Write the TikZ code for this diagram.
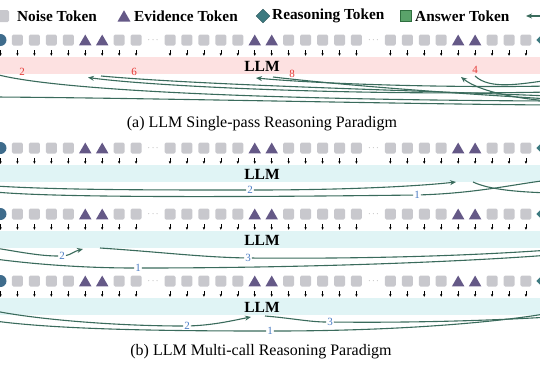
\documentclass[tikz,border=0pt]{standalone}
\usepackage{fontspec}
\setmainfont{Liberation Serif}
\usetikzlibrary{shapes.geometric,arrows.meta}
\definecolor{tokgray}{HTML}{C8C8CD}
\definecolor{evid}{HTML}{655987}
\definecolor{reas}{HTML}{3D7A80}
\definecolor{qblue}{HTML}{3F6C8C}
\definecolor{ansg}{HTML}{5AA36A}
\definecolor{ansgd}{HTML}{2F6F3F}
\definecolor{flowc}{HTML}{3A6B5C}
\definecolor{pinkband}{HTML}{FDE1E1}
\definecolor{cyanband}{HTML}{E0F4F5}
\definecolor{numred}{HTML}{E53935}
\definecolor{numblue}{HTML}{4A7CC4}
\tikzset{
  toks/.style={rectangle, fill=tokgray, minimum width=11pt, minimum height=11pt, rounded corners=1.5pt, inner sep=0pt},
  tokt/.style={regular polygon, regular polygon sides=3, fill=evid, minimum size=14.5pt, inner sep=0pt, yshift=-1.8pt},
  tokc/.style={circle, fill=qblue, minimum size=12pt, inner sep=0pt},
  tokr/.style={diamond, fill=reas, minimum size=13pt, inner sep=0pt},
  tokd/.style={inner sep=0pt, text=gray, font=\small, execute at begin node={$\cdots$}},
  tinyarr/.style={line width=0.6pt, -{Latex[length=2.6pt,width=2.6pt]}},
  legtext/.style={font=\fontsize{15.3}{15.3}\selectfont\bfseries, inner sep=0pt, anchor=west},
  llmtext/.style={font=\fontsize{15.5}{15.5}\selectfont\bfseries, inner sep=0pt},
  captext/.style={font=\fontsize{16}{16}\selectfont, inner sep=0pt},
  band/.style={rectangle, minimum width=560pt, minimum height=17pt, inner sep=0pt},
  flow/.style={draw=flowc, line width=1.1pt},
  flowarr/.style={draw=flowc, line width=1.1pt, -{Stealth[length=6pt,width=5pt]}},
  numr/.style={text=numred, font=\fontsize{11}{11}\selectfont, inner sep=0pt},
  numb/.style={text=numblue, font=\fontsize{11}{11}\selectfont, fill=white, inner sep=1pt},
}
\newcommand\tokrow[2]{%
  \foreach \k [count=\i from 0] in {c,s,s,s,s,t,t,s,s,d,s,s,s,s,s,t,t,s,s,s,s,s,d,s,s,s,s,t,t,s,s,s,r}{
    \pgfmathsetmacro\xx{0.5+16.95*\i}
    \node[tok\k] (#1\i) at (\xx,#2) {};
    \if d\k\else
      \draw[tinyarr] (\xx,#2+10) -- (\xx,#2+16);
    \fi
  }
}
\begin{document}
\begin{tikzpicture}[x=1pt,y=-1pt]
\useasboundingbox (0,0) rectangle (540,372);

% legend
\node[toks, minimum width=12pt, minimum height=12pt] (lgs) at (3,16) {};
\node[legtext] (lgst) at (17,16) {Noise Token};
\node[tokt, minimum size=15pt] (lgt) at (124,16) {};
\node[legtext] (lgtt) at (134,16) {Evidence Token};
\node[tokr, draw=reas!70!black, minimum size=14pt] (lgr) at (263,16) {};
\node[legtext] (lgrt) at (272,16) {Reasoning Token};
\node[rectangle, fill=ansg, draw=ansgd, line width=0.8pt, minimum size=11pt, inner sep=0pt] (lga) at (406,16) {};
\node[legtext] (lgat) at (415,16) {Answer Token};
\coordinate (lgfs) at (552,16);
\coordinate (lgfe) at (526,16);
\draw[flowarr] (lgfs) -- (lgfe);

% ---------------- (a) single pass ----------------
\node[band, fill=pinkband] (bandA) at (270,65.5) {};
\tokrow{a}{40}
\node[llmtext] (llmA) at (262,66.5) {LLM};
\node[numr] (na2) at (22,72) {2};
\node[numr] (na6) at (134,72) {6};
\node[numr] (na8) at (292,73.5) {8};
\node[numr] (na4) at (475,70) {4};

\coordinate (aL1) at (-5,74);
\coordinate (aL2) at (-5,97);
\coordinate (aR1) at (550,101);
\coordinate (aR2) at (550,105);
\coordinate (aR3) at (550,92);
\coordinate (aR4) at (550,96);
\coordinate (aR5) at (550,86);
\coordinate (aR6) at (550,99);
\coordinate (aR7) at (550,101);
\coordinate (aR8) at (550,80);
\coordinate (aI6) at (88,77.5);
\coordinate (aO6) at (101,76);
\coordinate (aI8) at (256,78);
\coordinate (aO8) at (273,77);
\coordinate (aI4) at (461,77);
\coordinate (aO4) at (475,76);

\draw[flow] (aL1) .. controls (60,92) and (300,100) .. (aR1);
\draw[flow] (aL2) .. controls (150,98) and (400,104) .. (aR2);
\draw[flowarr] (aR3) .. controls (350,96) and (150,86) .. (aI6);
\draw[flow] (aO6) .. controls (200,85) and (400,90) .. (aR4);
\draw[flowarr] (aR5) .. controls (450,88) and (320,84) .. (aI8);
\draw[flow] (aO8) .. controls (350,86) and (450,93) .. (aR6);
\draw[flowarr] (aR7) .. controls (520,99) and (480,92) .. (aI4);
\draw[flow] (aO4) .. controls (490,90) and (520,84) .. (aR8);

\node[captext] (capA) at (262,124) {(a) LLM Single-pass Reasoning Paradigm};

% ---------------- (b) multi call ----------------
% row 1
\node[band, fill=cyanband] (bandB1) at (270,173.5) {};
\tokrow{b}{148}
\node[llmtext] (llmB1) at (262,174) {LLM};
\coordinate (b1s2) at (-5,186);
\node[numb] (b1n2) at (250,190) {2};
\coordinate (b1e2) at (456,182);
\draw[flowarr] (b1s2) .. controls (60,190) and (150,190) .. (b1n2) .. controls (350,190) and (420,186) .. (b1e2);
\coordinate (b1s1) at (-5,192);
\node[numb] (b1n1) at (417,195) {1};
\coordinate (b1e1) at (550,180);
\draw[flow] (b1s1) .. controls (60,198) and (250,197) .. (b1n1) .. controls (480,193) and (520,183) .. (b1e1);
\coordinate (b1s3) at (473,182);
\coordinate (b1e3) at (550,193);
\draw[flow] (b1s3) .. controls (490,190) and (520,192) .. (b1e3);

% row 2
\node[band, fill=cyanband] (bandB2) at (270,239.5) {};
\tokrow{c}{214}
\node[llmtext] (llmB2) at (262,240) {LLM};
\coordinate (b2s2) at (-5,248);
\node[numb] (b2n2) at (62,256) {2};
\coordinate (b2e2) at (83,249);
\draw[flowarr] (b2s2) .. controls (20,252) and (40,256) .. (b2n2) .. controls (70,255) and (75,251) .. (b2e2);
\coordinate (b2s3) at (100,248);
\node[numb] (b2n3) at (248,258) {3};
\coordinate (b2e3) at (550,250);
\draw[flow] (b2s3) .. controls (160,252) and (200,257) .. (b2n3) .. controls (380,259) and (480,255) .. (b2e3);
\coordinate (b2s1) at (-5,259);
\node[numb] (b2n1) at (138,268) {1};
\coordinate (b2e1) at (550,255);
\draw[flow] (b2s1) .. controls (40,265) and (90,268) .. (b2n1) .. controls (300,268) and (460,262) .. (b2e1);

% row 3
\node[band, fill=cyanband] (bandB3) at (270,306.5) {};
\tokrow{d}{281}
\node[llmtext] (llmB3) at (262,307) {LLM};
\coordinate (b3s2) at (-5,311);
\node[numb] (b3n2) at (187,326) {2};
\coordinate (b3e2) at (251,317);
\draw[flowarr] (b3s2) .. controls (40,320) and (120,326) .. (b3n2) .. controls (215,325) and (235,320) .. (b3e2);
\coordinate (b3s3) at (265,316);
\node[numb] (b3n3) at (330,322) {3};
\coordinate (b3e3) at (550,317);
\draw[flow] (b3s3) .. controls (290,318) and (310,322) .. (b3n3) .. controls (420,323) and (500,320) .. (b3e3);
\coordinate (b3s1) at (-5,321);
\node[numb] (b3n1) at (270,331) {1};
\coordinate (b3e1) at (550,313);
\draw[flow] (b3s1) .. controls (60,330) and (180,331) .. (b3n1) .. controls (400,331) and (500,322) .. (b3e1);

\node[captext] (capB) at (261,352) {(b) LLM Multi-call Reasoning Paradigm};
\end{tikzpicture}
\end{document}
